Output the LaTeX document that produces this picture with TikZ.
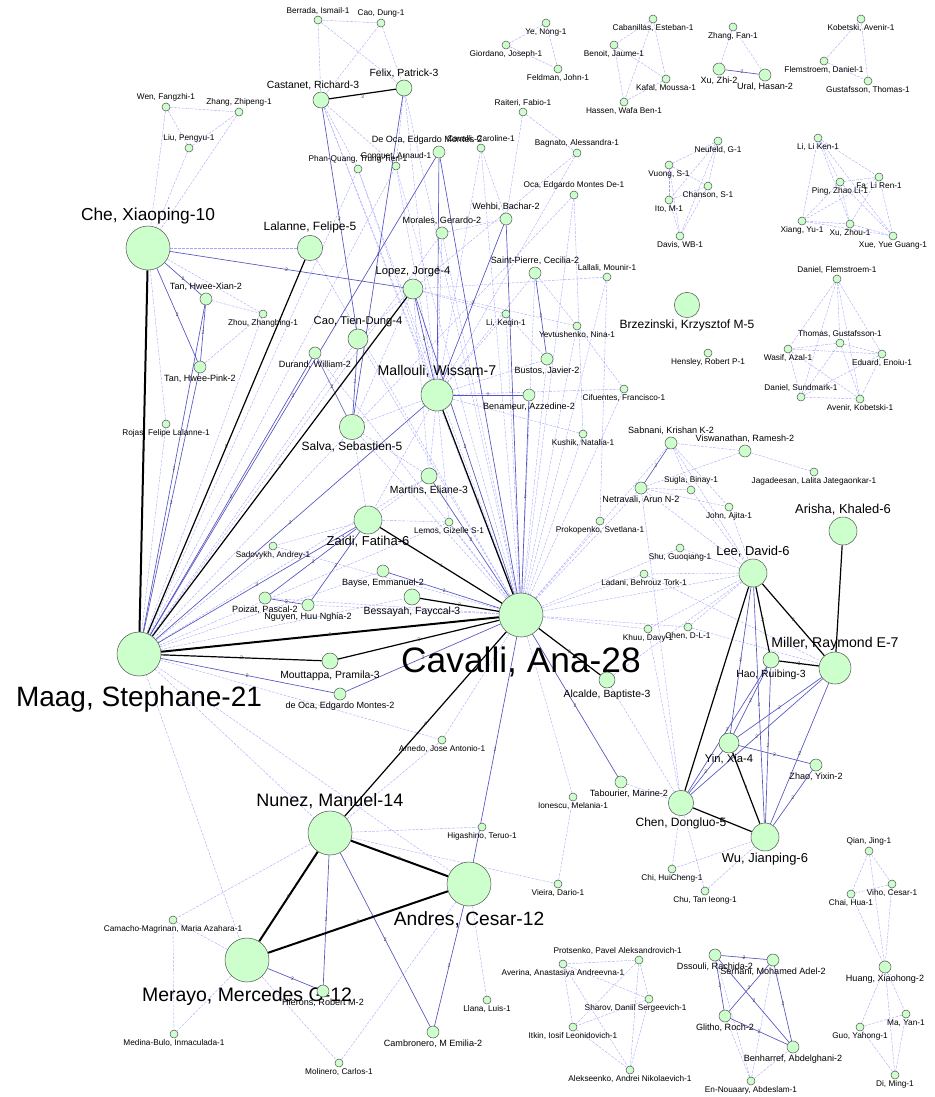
\documentclass[tikz,border=0pt]{standalone}
\usepackage{fontspec}
\setmainfont{Liberation Sans}
\usetikzlibrary{backgrounds}
\definecolor{nodegreen}{RGB}{204,255,204}
\definecolor{edgelight}{RGB}{165,165,255}
\definecolor{edgemid}{RGB}{85,85,195}
\tikzset{
  au/.style={circle, draw=black!65, fill=nodegreen, inner sep=0pt, line width=0.4pt},
  a1/.style={au, minimum size=6pt},
  a2/.style={au, minimum size=9pt},
  a3/.style={au, minimum size=12pt},
  a4/.style={au, minimum size=15pt},
  a5/.style={au, minimum size=19pt},
  a6/.style={au, minimum size=21pt},
  a7/.style={au, minimum size=24pt},
  aa/.style={au, minimum size=33pt},
  l1/.style={font=\fontsize{6.2}{7}\selectfont, inner sep=1pt},
  l2/.style={font=\fontsize{6.8}{8}\selectfont, inner sep=1pt},
  l3/.style={font=\fontsize{7.8}{9}\selectfont, inner sep=1pt},
  l4/.style={font=\fontsize{8.4}{10}\selectfont, inner sep=1pt},
  l5/.style={font=\fontsize{9}{11}\selectfont, inner sep=1pt},
  l6/.style={font=\fontsize{9.7}{11}\selectfont, inner sep=1pt},
  l7/.style={font=\fontsize{10.6}{12}\selectfont, inner sep=1pt},
  wk/.style={draw=edgelight, dash pattern=on 2pt off 1pt, line width=0.3pt},
  md/.style={draw=edgemid, line width=0.5pt},
  st/.style={draw=black, line width=0.9pt},
  sst/.style={draw=black, line width=1.5pt},
  wl/.style={font=\fontsize{3.8}{4}\selectfont, text=black!75, inner sep=0pt, midway}
}
\begin{document}
\begin{tikzpicture}[x=0.75pt, y=-0.75pt]
\useasboundingbox (0,0) rectangle (935,1097);

% --- top left
\node[a1, label={[l1]above:{Berrada, Ismail-1}}] (berrada) at (318,20) {};
\node[a1, label={[l1]above:{Cao, Dung-1}}] (caodung) at (381,23) {};
\node[a3, label={[l3, xshift=-6pt]above:{Castanet, Richard-3}}] (castanet) at (321,100) {};
\node[a3, label={[l3]above:{Felix, Patrick-3}}] (felix) at (404,88) {};
\node[a1, label={[l1]above:{Wen, Fangzhi-1}}] (wen) at (166,107) {};
\node[a1, label={[l1]above:{Zhang, Zhipeng-1}}] (zhangzp) at (239,112) {};
\node[a1, label={[l1]above:{Liu, Pengyu-1}}] (liu) at (189,148) {};
\node[aa, label={[font=\fontsize{13}{15}\selectfont, inner sep=1pt]above:{Che, Xiaoping-10}}] (che) at (148,248) {};
\node[a5, label={[l5]above:{Lalanne, Felipe-5}}] (lalanne) at (310,248) {};
\node[a2, label={[l2]above:{Tan, Hwee-Xian-2}}] (tanxian) at (206,299) {};
\node[a1, label={[l1]below:{Zhou, Zhangbing-1}}] (zhou) at (263,314) {};
\node[a2, label={[l2]below:{Tan, Hwee-Pink-2}}] (tanpink) at (200,367) {};
\node[a1, label={[l1]below:{Rojas, Felipe Lalanne-1}}] (rojas) at (166,424) {};

% --- top middle
\node[a1, label={[l1]below:{Ye, Nong-1}}] (yenong) at (546,23) {};
\node[a1, label={[l1]below:{Giordano, Joseph-1}}] (giordano) at (506,45) {};
\node[a1, label={[l1]below:{Feldman, John-1}}] (feldman) at (558,69) {};
\node[a1, label={[l1]below:{Cabanillas, Esteban-1}}] (cabanillas) at (653,19) {};
\node[a1, label={[l1]below:{Benoit, Jaume-1}}] (benoit) at (614,45) {};
\node[a1, label={[l1]below:{Kafal, Moussa-1}}] (kafal) at (666,79) {};
\node[a1, label={[l1]below:{Hassen, Wafa Ben-1}}] (hassen) at (624,102) {};
\node[a1, label={[l1]above:{Raiteri, Fabio-1}}] (raiteri) at (523,112) {};
\node[a2, label={[l2, xshift=-9pt]above:{De Oca, Edgardo Montes-2}}] (deoca) at (439,152) {};
\node[a1, label={[l1]above:{Cavalli, Caroline-1}}] (caroline) at (481,148) {};
\node[a1, label={[l1]above:{Phan-Quang, Trung-Tien-1}}] (phanquang) at (358,169) {};
\node[a1, label={[l1]above:{Gonguet, Arnaud-1}}] (gonguet) at (396,166) {};
\node[a1, label={[l1]above:{Bagnato, Alessandra-1}}] (bagnato) at (577,153) {};
\node[a1, label={[l1]above:{Oca, Edgardo Montes De-1}}] (ocade) at (574,195) {};
\node[a2, label={[l2]above:{Wehbi, Bachar-2}}] (wehbi) at (506,219) {};
\node[a2, label={[l2]above:{Morales, Gerardo-2}}] (morales) at (442,233) {};
\node[a2, label={[l2]above:{Saint-Pierre, Cecilia-2}}] (saintpierre) at (535,273) {};
\node[a1, label={[l1]above:{Lallali, Mounir-1}}] (lallali) at (607,277) {};
\node[a4, label={[l4]above:{Lopez, Jorge-4}}] (lopez) at (413,289) {};

% --- top right
\node[a1, label={[l1]below:{Zhang, Fan-1}}] (zhangfan) at (733,27) {};
\node[a2, label={[l2]below:{Xu, Zhi-2}}] (xuzhi) at (719,69) {};
\node[a2, label={[l2]below:{Ural, Hasan-2}}] (ural) at (765,75) {};
\node[a1, label={[l1]below:{Kobetski, Avenir-1}}] (kobetski) at (861,19) {};
\node[a1, label={[l1]below:{Flemstroem, Daniel-1}}] (flemstroem) at (824,61) {};
\node[a1, label={[l1]below:{Gustafsson, Thomas-1}}] (gustafsson) at (868,81) {};
\node[a1, label={[l1]below:{Neufeld, G-1}}] (neufeld) at (718,141) {};
\node[a1, label={[l1]below:{Vuong, S-1}}] (vuong) at (669,165) {};
\node[a1, label={[l1]below:{Chanson, S-1}}] (chanson) at (708,186) {};
\node[a1, label={[l1]below:{Ito, M-1}}] (ito) at (669,200) {};
\node[a1, label={[l1]below:{Davis, WB-1}}] (davis) at (680,236) {};
\node[a1, label={[l1]below:{Li, Li Ken-1}}] (liliken) at (818,138) {};
\node[a1, label={[l1]below:{Ping, Zhao Li-1}}] (ping) at (840,182) {};
\node[a1, label={[l1]below:{Fa, Li Ren-1}}] (fa) at (879,177) {};
\node[a1, label={[l1]below:{Xiang, Yu-1}}] (xiang) at (802,221) {};
\node[a1, label={[l1]below:{Xu, Zhou-1}}] (xuzhou) at (850,224) {};
\node[a1, label={[l1]below:{Xue, Yue Guang-1}}] (xue) at (893,236) {};
\node[a1, label={[l1]above:{Daniel, Flemstroem-1}}] (danielf) at (837,279) {};
\node[a1, label={[l1]above:{Thomas, Gustafsson-1}}] (thomas) at (840,343) {};
\node[a1, label={[l1]below:{Wasif, Azal-1}}] (wasif) at (788,349) {};
\node[a1, label={[l1]below:{Eduard, Enoiu-1}}] (eduard) at (882,354) {};
\node[a1, label={[l1]above:{Daniel, Sundmark-1}}] (daniels) at (801,397) {};
\node[a1, label={[l1]below:{Avenir, Kobetski-1}}] (avenir) at (860,399) {};
\node[a5, label={[l5]below:{Brzezinski, Krzysztof M-5}}] (brzezinski) at (687,305) {};
\node[a1, label={[l1]below:{Hensley, Robert P-1}}] (hensley) at (708,353) {};

% --- centre
\node[a2, label={[l2]below:{Durand, William-2}}] (durand) at (315,353) {};
\node[a4, label={[l4]above:{Cao, Tien-Dung-4}}] (caotd) at (358,339) {};
\node[a7, label={[l7]above:{Mallouli, Wissam-7}}] (mallouli) at (437,395) {};
\node[a5, label={[l5]below:{Salva, Sebastien-5}}] (salva) at (352,427) {};
\node[a1, label={[l1]below:{Li, Keqin-1}}] (likeqin) at (506,314) {};
\node[a1, label={[l1]below:{Yevtushenko, Nina-1}}] (yevt) at (577,326) {};
\node[a2, label={[l2]below:{Bustos, Javier-2}}] (bustos) at (547,359) {};
\node[a2, label={[l2]below:{Benameur, Azzedine-2}}] (benameur) at (529,395) {};
\node[a1, label={[l1]below:{Cifuentes, Francisco-1}}] (cifuentes) at (624,389) {};
\node[a1, label={[l1]below:{Kushik, Natalia-1}}] (kushik) at (583,434) {};
\node[a3, label={[l3]below:{Martins, Eliane-3}}] (martins) at (429,476) {};
\node[a1, label={[l1]below:{Lemos, Gizelle S-1}}] (lemos) at (449,522) {};
\node[a1, label={[l1]below:{Prokopenko, Svetlana-1}}] (prokopenko) at (600,521) {};
\node[a6, label={[l6]below:{Zaidi, Fatiha-6}}] (zaidi) at (368,520) {};
\node[a1, label={[l1]below:{Sadovykh, Andrey-1}}] (sadovykh) at (273,546) {};
\node[a2, label={[l2]below:{Poizat, Pascal-2}}] (poizat) at (265,598) {};
\node[a2, label={[l2]below:{Nguyen, Huu Nghia-2}}] (nguyen) at (308,605) {};
\node[a2, label={[l2]below:{Bayse, Emmanuel-2}}] (bayse) at (383,571) {};
\node[a3, label={[l3]below:{Bessayah, Fayccal-3}}] (bessayah) at (412,597) {};
\node[aa, label={[font=\fontsize{26.5}{28}\selectfont, inner sep=0pt, yshift=-7pt]below:{Cavalli, Ana-28}}] (cavalli) at (521,615) {};
\node[aa, label={[font=\fontsize{21}{23}\selectfont, inner sep=0pt, yshift=-7pt]below:{Maag, Stephane-21}}] (maag) at (139,654) {};
\node[a3, label={[l3]below:{Mouttappa, Pramila-3}}] (mouttappa) at (330,661) {};
\node[a2, label={[l2]below:{de Oca, Edgardo Montes-2}}] (deocam) at (340,694) {};
\node[a1, label={[l1]below:{Arnedo, Jose Antonio-1}}] (arnedo) at (442,740) {};
\node[a3, label={[l3]below:{Alcalde, Baptiste-3}}] (alcalde) at (607,680) {};
\node[a2, label={[l2, xshift=6pt]below:{Tabourier, Marine-2}}] (tabourier) at (621,782) {};
\node[a1, label={[l1]below:{Ionescu, Melania-1}}] (ionescu) at (573,797) {};
\node[a1, label={[l1]below:{Higashino, Teruo-1}}] (higashino) at (482,827) {};
\node[a1, label={[l1]below:{Vieira, Dario-1}}] (vieira) at (558,884) {};

% --- bottom left
\node[aa, label={[font=\fontsize{13.5}{15}\selectfont, inner sep=1pt]above:{Nunez, Manuel-14}}] (nunez) at (330,833) {};
\node[aa, label={[font=\fontsize{14.4}{16}\selectfont, inner sep=1pt, yshift=-3pt]below:{Andres, Cesar-12}}] (andres) at (469,884) {};
\node[aa, label={[font=\fontsize{14.6}{16}\selectfont, inner sep=1pt, yshift=-3pt]below:{Merayo, Mercedes G-12}}] (merayo) at (247,960) {};
\node[a1, label={[l1]below:{Camacho-Magrinan, Maria Azahara-1}}] (camacho) at (173,920) {};
\node[a1, label={[l1]below:{Medina-Bulo, Inmaculada-1}}] (medina) at (174,1034) {};
\node[a2, label={[l2]below:{Hierons, Robert M-2}}] (hierons) at (323,991) {};
\node[a1, label={[l1]below:{Molinero, Carlos-1}}] (molinero) at (339,1063) {};
\node[a2, label={[l2]below:{Cambronero, M Emilia-2}}] (cambronero) at (433,1032) {};
\node[a1, label={[l1]below:{Llana, Luis-1}}] (llana) at (487,1000) {};

% --- right
\node[a2, label={[l2]above:{Sabnani, Krishan K-2}}] (sabnani) at (671,443) {};
\node[a2, label={[l2]above:{Viswanathan, Ramesh-2}}] (viswanathan) at (745,451) {};
\node[a1, label={[l1]below:{Jagadeesan, Lalita Jategaonkar-1}}] (jagadeesan) at (814,472) {};
\node[a2, label={[l2]below:{Netravali, Arun N-2}}] (netravali) at (641,488) {};
\node[a1, label={[l1]above:{Sugla, Binay-1}}] (sugla) at (691,490) {};
\node[a1, label={[l1]below:{John, Ajita-1}}] (john) at (729,507) {};
\node[a6, label={[l6]above:{Arisha, Khaled-6}}] (arisha) at (843,531) {};
\node[a6, label={[l6]above:{Lee, David-6}}] (lee) at (753,573) {};
\node[a1, label={[l1]below:{Shu, Guoqiang-1}}] (shu) at (680,548) {};
\node[a1, label={[l1]below:{Ladani, Behrouz Tork-1}}] (ladani) at (644,574) {};
\node[a1, label={[l1]below:{Khuu, Davy-1}}] (khuu) at (648,629) {};
\node[a1, label={[l1]below:{Chen, D-L-1}}] (chendl) at (688,627) {};
\node[a7, label={[l7]above:{Miller, Raymond E-7}}] (miller) at (835,668) {};
\node[a3, label={[l3]below:{Hao, Ruibing-3}}] (hao) at (771,660) {};
\node[a4, label={[l4]below:{Yin, Xia-4}}] (yin) at (729,743) {};
\node[a2, label={[l2]below:{Zhao, Yixin-2}}] (zhao) at (816,765) {};
\node[a5, label={[l5]below:{Chen, Dongluo-5}}] (chend) at (681,803) {};
\node[a6, label={[l6]below:{Wu, Jianping-6}}] (wu) at (765,837) {};
\node[a1, label={[l1]below:{Chi, HuiCheng-1}}] (chi) at (672,869) {};
\node[a1, label={[l1]below:{Chu, Tan Ieong-1}}] (chu) at (705,891) {};

% --- bottom right
\node[a1, label={[l1]above:{Qian, Jing-1}}] (qian) at (869,851) {};
\node[a1, label={[l1]below:{Viho, Cesar-1}}] (viho) at (892,884) {};
\node[a1, label={[l1]below:{Chai, Hua-1}}] (chai) at (851,894) {};
\node[a2, label={[l2]below:{Huang, Xiaohong-2}}] (huang) at (885,967) {};
\node[a1, label={[l1]below:{Ma, Yan-1}}] (ma) at (906,1014) {};
\node[a1, label={[l1]below:{Guo, Yahong-1}}] (guo) at (860,1027) {};
\node[a1, label={[l1]below:{Di, Ming-1}}] (di) at (895,1075) {};
\node[a2, label={[l2]below:{Dssouli, Rachida-2}}] (dssouli) at (715,955) {};
\node[a2, label={[l2]below:{Serhani, Mohamed Adel-2}}] (serhani) at (773,960) {};
\node[a2, label={[l2]below:{Glitho, Roch-2}}] (glitho) at (725,1016) {};
\node[a2, label={[l2]below:{Benharref, Abdelghani-2}}] (benharref) at (793,1047) {};
\node[a1, label={[l1]below:{En-Nouaary, Abdeslam-1}}] (ennouaary) at (751,1081) {};
\node[a1, label={[l1, xshift=-16pt]above:{Protsenko, Pavel Aleksandrovich-1}}] (protsenko) at (639,960) {};
\node[a1, label={[l1]below:{Averina, Anastasiya Andreevna-1}}] (averina) at (563,964) {};
\node[a1, label={[l1, xshift=-10pt]below:{Sharov, Daniil Sergeevich-1}}] (sharov) at (649,999) {};
\node[a1, label={[l1]below:{Itkin, Iosif Leonidovich-1}}] (itkin) at (573,1027) {};
\node[a1, label={[l1]below:{Alekseenko, Andrei Nikolaevich-1}}] (alekseenko) at (630,1070) {};

\begin{pgfonlayer}{background}
% one shared paper
\foreach \a/\b in {berrada/caodung, berrada/castanet, berrada/felix, caodung/castanet, caodung/felix,
  wen/zhangzp, wen/liu, liu/zhangzp, wen/che, zhangzp/che, liu/che,
  yenong/giordano, yenong/feldman, giordano/feldman,
  cabanillas/benoit, cabanillas/kafal, cabanillas/hassen, benoit/kafal, benoit/hassen, kafal/hassen,
  zhangfan/xuzhi, zhangfan/ural, kobetski/flemstroem, kobetski/gustafsson, flemstroem/gustafsson,
  neufeld/vuong, neufeld/chanson, neufeld/ito, neufeld/davis, vuong/chanson, vuong/ito, vuong/davis,
  chanson/ito, chanson/davis, ito/davis,
  liliken/ping, liliken/fa, liliken/xiang, liliken/xuzhou, liliken/xue, ping/fa, ping/xiang,
  ping/xuzhou, ping/xue, fa/xiang, fa/xuzhou, fa/xue, xiang/xuzhou, xiang/xue, xuzhou/xue,
  danielf/thomas, danielf/wasif, danielf/eduard, danielf/daniels, danielf/avenir, thomas/wasif,
  thomas/eduard, thomas/daniels, thomas/avenir, wasif/eduard, wasif/daniels, wasif/avenir,
  eduard/daniels, eduard/avenir, daniels/avenir,
  protsenko/averina, protsenko/sharov, protsenko/itkin, protsenko/alekseenko, averina/sharov,
  averina/itkin, averina/alekseenko, sharov/itkin, sharov/alekseenko, itkin/alekseenko,
  qian/viho, qian/chai, qian/huang, viho/chai, viho/huang, chai/huang,
  huang/ma, huang/guo, huang/di, ma/guo, ma/di, guo/di,
  ennouaary/dssouli, ennouaary/serhani, ennouaary/glitho, ennouaary/benharref,
  sabnani/viswanathan, viswanathan/jagadeesan, viswanathan/netravali, sabnani/sugla, sabnani/john,
  netravali/sugla, netravali/john, sabnani/lee, sugla/lee, john/lee, netravali/lee, netravali/chend,
  lee/shu, lee/ladani, lee/khuu, lee/chendl, chendl/miller, khuu/chend, ladani/miller,
  chend/chi, chend/chu, wu/chi, wu/chu, alcalde/chend, alcalde/lee, tabourier/chend,
  che/lalanne, che/zhou, che/rojas, tanxian/zhou, tanpink/zhou, rojas/maag, zhou/maag,
  castanet/phanquang, castanet/gonguet, castanet/mallouli, felix/mallouli, felix/gonguet,
  raiteri/wehbi, raiteri/bagnato, bagnato/mallouli, bagnato/lopez, morales/wehbi,
  ocade/cavalli, ocade/kushik, ocade/maag, lallali/prokopenko, lallali/lopez,
  saintpierre/yevt, yevt/cifuentes, bustos/likeqin, caroline/mallouli, caroline/wehbi,
  cavalli/castanet, cavalli/felix, cavalli/phanquang, cavalli/gonguet, cavalli/caroline,
  cavalli/morales, cavalli/saintpierre, cavalli/lallali, cavalli/likeqin, cavalli/yevt,
  cavalli/bustos, cavalli/cifuentes, cavalli/kushik, cavalli/prokopenko, cavalli/lemos,
  cavalli/sadovykh, cavalli/poizat, cavalli/nguyen, cavalli/salva, cavalli/caotd, cavalli/durand,
  cavalli/ionescu, cavalli/arnedo, cavalli/netravali, cavalli/ladani, cavalli/shu, cavalli/khuu,
  cavalli/chendl, cavalli/lee, cavalli/sabnani, cavalli/lalanne,
  maag/caotd, maag/martins, maag/sadovykh, maag/bayse, maag/bessayah, maag/arnedo, maag/nunez,
  maag/merayo, maag/andres, maag/morales, maag/gonguet, maag/phanquang, maag/lemos,
  mallouli/gonguet, mallouli/phanquang, mallouli/morales, mallouli/likeqin, mallouli/saintpierre,
  mallouli/bustos, mallouli/cifuentes, mallouli/kushik, mallouli/martins, mallouli/lemos,
  mallouli/zaidi, mallouli/salva, martins/salva, martins/zaidi, zaidi/salva, lemos/zaidi,
  zaidi/sadovykh, lopez/salva, lopez/caotd, lopez/martins, lopez/yevt, lopez/likeqin,
  nunez/higashino, nunez/arnedo, nunez/camacho, merayo/molinero, andres/molinero, andres/llana,
  merayo/camacho, merayo/medina, camacho/medina, nunez/vieira, vieira/ionescu}
  \draw[wk] (\a) -- (\b);
% two shared papers
\foreach \a/\b in {castanet/caotd, felix/salva, che/lopez, che/tanxian, che/tanpink,
  tanxian/tanpink, tanxian/maag, tanpink/maag, maag/durand, maag/deocam, maag/mallouli,
  maag/zaidi, caotd/salva, durand/salva, deoca/mallouli, deoca/cavalli, deoca/maag,
  wehbi/cavalli, wehbi/mallouli, lopez/mallouli, lopez/cavalli, mallouli/benameur,
  benameur/cavalli, saintpierre/bustos, cavalli/deocam, cavalli/andres, cavalli/tabourier,
  cavalli/martins, cavalli/bayse, zaidi/poizat, zaidi/nguyen, poizat/nguyen,
  nunez/hierons, nunez/cambronero, andres/cambronero, merayo/hierons, xuzhi/ural,
  sabnani/netravali, lee/yin, lee/wu, miller/yin, miller/chend, miller/wu, hao/yin, hao/chend,
  hao/wu, yin/zhao, yin/chend, zhao/wu, dssouli/serhani, dssouli/glitho, dssouli/benharref,
  serhani/glitho, serhani/benharref, glitho/benharref}
  \draw[md] (\a) -- (\b) node[wl] {2};
% three or more
\draw[st] (castanet) -- (felix) node[wl, below] {3};
\draw[sst] (che) -- (maag) node[wl] {9};
\draw[st] (lalanne) -- (maag) node[wl] {5};
\draw[st] (lopez) -- (maag) node[wl] {3};
\draw[sst] (maag) -- (cavalli) node[wl, pos=.5] {9};
\draw[st] (maag) -- (mouttappa) node[wl] {3};
\draw[st] (mallouli) -- (cavalli) node[wl] {4};
\draw[st] (zaidi) -- (cavalli) node[wl] {4};
\draw[st] (bessayah) -- (cavalli) node[wl] {2};
\draw[st] (mouttappa) -- (cavalli) node[wl] {3};
\draw[st] (nunez) -- (cavalli) node[wl] {4};
\draw[st] (alcalde) -- (cavalli) node[wl] {3};
\draw[sst] (nunez) -- (andres) node[wl] {9};
\draw[sst] (nunez) -- (merayo) node[wl] {9};
\draw[sst] (merayo) -- (andres) node[wl] {8};
\draw[st] (lee) -- (miller) node[wl] {3};
\draw[st] (lee) -- (hao) node[wl] {3};
\draw[st] (lee) -- (chend) node[wl] {3};
\draw[st] (hao) -- (miller) node[wl] {3};
\draw[st] (miller) -- (arisha) node[wl] {3};
\draw[st] (yin) -- (wu) node[wl] {4};
\draw[st] (chend) -- (wu) node[wl] {5};
\end{pgfonlayer}
\end{tikzpicture}
\end{document}
